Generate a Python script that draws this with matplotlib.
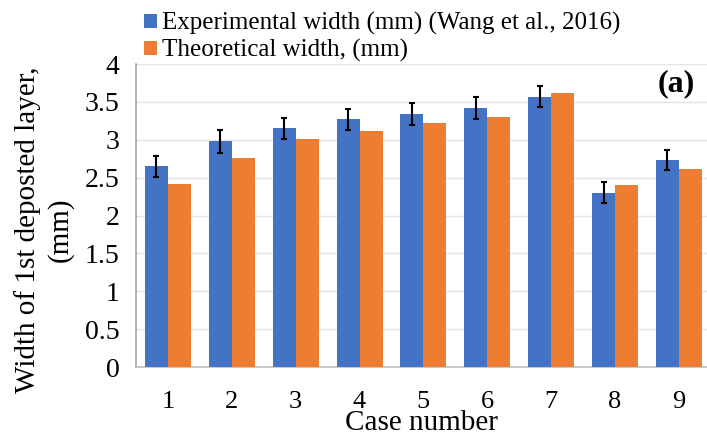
import numpy as np
import matplotlib.pyplot as plt

plt.rcParams["font.family"] = ["Liberation Serif", "DejaVu Serif"]

cases = ["1", "2", "3", "4", "5", "6", "7", "8", "9"]
experimental = [2.65, 2.98, 3.15, 3.27, 3.34, 3.42, 3.57, 2.30, 2.73]
exp_err = [0.14, 0.15, 0.14, 0.14, 0.14, 0.14, 0.14, 0.14, 0.13]
theoretical = [2.41, 2.76, 3.01, 3.12, 3.22, 3.30, 3.62, 2.40, 2.62]
yticks = [0, 0.5, 1, 1.5, 2, 2.5, 3, 3.5, 4]
ytick_labels = ["0", "0.5", "1", "1.5", "2", "2.5", "3", "3.5", "4"]

BLUE = "#4472C4"
ORANGE = "#ED7D31"

fig = plt.figure(figsize=(7.07, 4.4), dpi=100)
ax = fig.add_axes([0.1924, 0.1659, 0.8076, 0.6886])

x = np.arange(len(cases))
w = 0.36
ax.bar(x - w / 2, experimental, w, color=BLUE, zorder=3,
       label="Experimental width (mm) (Wang et al., 2016)")
ax.errorbar(x - w / 2, experimental, yerr=exp_err, fmt="none",
            ecolor="black", elinewidth=1.5, capsize=2, capthick=1.5, zorder=4)
ax.bar(x + w / 2, theoretical, w, color=ORANGE, zorder=3,
       label="Theoretical width, (mm)")

ax.set_xlim(-0.5, 8.44)
ax.set_ylim(0, 4)
ax.set_yticks(yticks)
ax.set_yticklabels(ytick_labels)
ax.set_xticks(x)
ax.set_xticklabels(cases)
ax.tick_params(axis="both", length=0, labelsize=20)
ax.tick_params(axis="y", pad=12)
ax.tick_params(axis="x", labelsize=19, pad=17)
ax.grid(axis="y", color="#E3E3E3", linewidth=1, zorder=0)
for s in ["top", "right"]:
    ax.spines[s].set_visible(False)
ax.spines["left"].set_color("#A6A6A6")
ax.spines["bottom"].set_color("#BFBFBF")
ax.spines["left"].set_linewidth(1.2)
ax.spines["bottom"].set_linewidth(1.2)

ax.set_xlabel("Case number", fontsize=21, labelpad=-2)
fig.text(0.062, 0.478, "Width of 1st deposted layer,\n(mm)", rotation=90,
         ha="center", va="center", fontsize=21, multialignment="center",
         linespacing=1.25)
ax.text(0.978, 0.935, "(a)", transform=ax.transAxes, ha="right", va="center",
        fontsize=23, fontweight="bold")

fig.legend(loc="upper left", bbox_to_anchor=(0.19, 0.995), frameon=False,
           fontsize=18, handlelength=0.5, handleheight=0.5,
           handletextpad=0.2, labelspacing=0.15, borderaxespad=0)

fig.savefig("out.png", dpi=100)
